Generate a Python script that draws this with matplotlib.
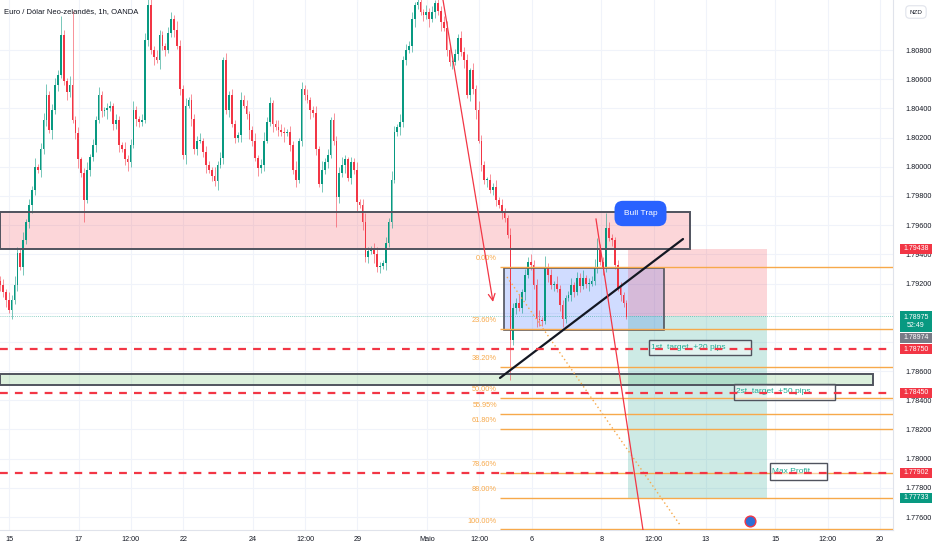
import numpy as np
import matplotlib
matplotlib.use('Agg')
import matplotlib.pyplot as plt
from matplotlib import font_manager
from matplotlib.patches import Rectangle
import matplotlib.transforms as mtrans

# fonts
names = {f.name for f in font_manager.fontManager.ttflist}
narrow = 'Liberation Sans Narrow' if 'Liberation Sans Narrow' in names else 'Liberation Sans'
plt.rcParams['font.family'] = ['Liberation Sans', 'DejaVu Sans']

# EUR/NZD 2h candles (closes)
closes = [
    1.7919, 1.7914, 1.7909, 1.7902, 1.7909, 1.7919, 1.7941, 1.7931, 1.7950, 1.7962,
    1.7974, 1.7984, 1.8000, 1.7998, 1.8012, 1.8032, 1.8049, 1.8025, 1.8039, 1.8056,
    1.8063, 1.8090, 1.8059, 1.8051, 1.8056, 1.8032, 1.8023, 1.8005, 1.7996, 1.7977,
    1.7998, 1.8007, 1.8015, 1.8032, 1.8049, 1.8038, 1.8039, 1.8040, 1.8042, 1.8029,
    1.8032, 1.8015, 1.8012, 1.8005, 1.8003, 1.8015, 1.8039, 1.8033, 1.8031, 1.8032,
    1.8087, 1.8111, 1.8080, 1.8075, 1.8073, 1.8090, 1.8083, 1.8080, 1.8092, 1.8101,
    1.8094, 1.8083, 1.8053, 1.8008, 1.8042, 1.8046, 1.8033, 1.8012, 1.8018, 1.8018,
    1.8010, 1.8001, 1.7998, 1.7994, 1.7990, 1.8001, 1.8006, 1.8073, 1.8039, 1.8049,
    1.8029, 1.8020, 1.8022, 1.8046, 1.8042, 1.8036, 1.8025, 1.8018, 1.8006, 1.7999,
    1.8001, 1.8018, 1.8031, 1.8044, 1.8029, 1.8027, 1.8025, 1.8024, 1.8023, 1.8024,
    1.8015, 1.7998, 1.7991, 1.8018, 1.8053, 1.8049, 1.8046, 1.8039, 1.8037, 1.8012,
    1.7988, 1.7998, 1.8003, 1.8008, 1.8032, 1.8018, 1.7979, 1.7996, 1.8001, 1.8005,
    1.7992, 1.8003, 1.7998, 1.7976, 1.7974, 1.7962, 1.7938, 1.7942, 1.7944, 1.7940,
    1.7931, 1.7932, 1.7934, 1.7948, 1.7962, 1.7991, 1.8024, 1.8027, 1.8031, 1.8073,
    1.8080, 1.8083, 1.8101, 1.8111, 1.8113, 1.8106, 1.8104, 1.8106, 1.8101, 1.8106,
    1.8112, 1.8107, 1.8099, 1.8095, 1.8080, 1.8072, 1.8072, 1.8077, 1.8088, 1.8079,
    1.8073, 1.8049, 1.8066, 1.8053, 1.8039, 1.8018, 1.8001, 1.7991, 1.7991, 1.7984,
    1.7986, 1.7977, 1.7974, 1.7969, 1.7965, 1.7953, 1.7881, 1.7903, 1.7907, 1.7903,
    1.7914, 1.7926, 1.7935, 1.7933, 1.7919, 1.7896, 1.7895, 1.7894, 1.7931, 1.7926,
    1.7919, 1.7920, 1.7916, 1.7905, 1.7896, 1.7910, 1.7912, 1.7919, 1.7914, 1.7924,
    1.7918, 1.7924, 1.7920, 1.7920, 1.7922, 1.7931, 1.7943, 1.7935, 1.7931, 1.7958,
    1.7951, 1.7950, 1.7933, 1.7917, 1.7912, 1.7907, 1.78974,
]
first_open = 1.7922
# wick lengths in pips above / below the body
wick_up = [
    3, 4, 2, 5, 3, 6, 4, 3, 5, 2, 4, 3, 6, 2, 4, 5, 8, 3, 4, 5,
    3, 13, 4, 2, 6, 51, 3, 4, 2, 3, 5, 2, 4, 3, 6, 3, 2, 4, 3, 2,
    4, 3, 2, 5, 3, 4, 6, 3, 2, 4, 5, 4, 6, 3, 5, 4, 3, 2, 4, 5,
    3, 6, 4, 3, 5, 2, 4, 3, 3, 5, 2, 4, 3, 2, 6, 3, 4, 2, 5, 3,
    4, 3, 2, 5, 3, 4, 2, 3, 5, 2, 4, 6, 3, 4, 2, 3, 5, 4, 3, 2,
    4, 3, 6, 2, 5, 3, 4, 2, 3, 5, 2, 6, 3, 4, 2, 5, 3, 4, 6, 3,
    2, 4, 3, 5, 2, 4, 6, 3, 2, 4, 5, 3, 2, 4, 3, 6, 4, 2, 5, 3,
    4, 3, 5, 2, 4, 3, 2, 5, 3, 4, 2, 6, 3, 4, 5, 3, 2, 4, 3, 5,
    3, 4, 2, 5, 3, 6, 4, 3, 2, 4, 3, 5, 2, 4, 3, 2, 5, 4, 3, 6,
    2, 4, 3, 5, 3, 4, 6, 2, 8, 3, 4, 2, 5, 3, 4, 2, 3, 5, 2, 4,
    3, 5, 2, 4, 3, 6, 8, 4, 3, 10, 4, 3, 2, 3, 4, 2, 2,
]
wick_dn = [
    4, 3, 5, 2, 6, 3, 4, 2, 5, 3, 4, 6, 3, 2, 5, 3, 4, 2, 6, 3,
    4, 2, 3, 5, 3, 2, 4, 6, 3, 15, 2, 4, 3, 5, 2, 4, 3, 6, 2, 4,
    3, 5, 2, 4, 6, 3, 2, 5, 4, 3, 2, 4, 3, 5, 2, 6, 3, 4, 2, 3,
    5, 2, 4, 3, 6, 2, 5, 3, 4, 2, 3, 5, 2, 4, 3, 6, 2, 4, 3, 5,
    2, 4, 3, 5, 2, 3, 6, 4, 2, 5, 3, 4, 2, 3, 5, 2, 4, 3, 6, 2,
    4, 3, 5, 2, 4, 3, 2, 6, 3, 4, 2, 5, 3, 4, 2, 3, 20, 4, 3, 5,
    2, 4, 3, 6, 2, 5, 3, 4, 2, 6, 3, 4, 2, 5, 3, 4, 2, 3, 5, 4,
    3, 2, 4, 5, 3, 2, 4, 3, 5, 2, 4, 3, 6, 2, 4, 3, 5, 2, 4, 3,
    5, 2, 4, 3, 6, 2, 4, 3, 5, 2, 3, 4, 2, 5, 3, 2, 27, 3, 4, 2,
    3, 5, 2, 4, 3, 6, 4, 3, 2, 5, 3, 4, 2, 4, 6, 3, 2, 4, 3, 2,
    4, 2, 3, 5, 2, 3, 4, 2, 5, 3, 2, 4, 3, 2, 4, 3, 2,
]

# x axis: trading days after 15 Apr and their labels
tick_days = [0, 2, 3.5, 5, 7, 8.5, 10, 12, 13.5, 15, 17, 18.5, 20, 22, 23.5, 25]
tick_labels = ['15', '17', '12:00', '22', '24', '12:00', '29', 'Maio', '12:00',
               '6', '8', '12:00', '13', '15', '12:00', '20']

# levels
zone_red = (1.79438, 1.79690)
zone_green = (1.78505, 1.78580)
range_box = (1.78882, 1.79307)
stop, entry, target = 1.79438, 1.78975, 1.77733
fib_0, fib_100 = 1.79315, 1.77517
fib_levels = [0, 0.236, 0.382, 0.5, 0.5595, 0.618, 0.786, 0.88, 1.0]
fib_labels = ['0.00%', '23.60%', '38.20%', '50.00%', '55.95%', '61.80%',
              '78.60%', '88.00%', '100.00%']
dashed_levels = [1.78750, 1.78450, 1.77902]

GREEN = '#089981'
RED = '#f23645'
ORANGE = '#f7a94b'
DARK = '#131722'
EDGE = '#50535e'

closes = np.array(closes)
opens = np.concatenate([[first_open], closes[:-1]])
highs = np.maximum(opens, closes) + np.array(wick_up) / 10000
lows = np.minimum(opens, closes) - np.array(wick_dn) / 10000
idx = np.arange(len(closes))
up = closes >= opens
cols = np.where(up, GREEN, RED)

W, H = 932, 550
fig = plt.figure(figsize=(W / 100, H / 100), dpi=100)
ax = fig.add_axes([0, 20 / H, 893 / W, 530 / H])
ymin, ymax = 1.77511, 1.81143
xmax = 893 / 2.9
ax.set_xlim(0, xmax)
ax.set_ylim(ymin, ymax)
ppx = (ymax - ymin) / 530  # price per pixel
xpx = xmax / 893           # index per pixel

# grid
ax.set_axisbelow(True)
ax.grid(color='#f0f3fa', lw=0.8)

# zones and boxes under the candles
ax.add_patch(Rectangle((0, zone_red[0]), 690 * xpx, zone_red[1] - zone_red[0],
                       fc=RED, alpha=0.2, ec='none', zorder=1))
ax.add_patch(Rectangle((0, zone_red[0]), 690 * xpx, zone_red[1] - zone_red[0],
                       fc='none', ec=EDGE, lw=1.4, zorder=4))
ax.add_patch(Rectangle((0, zone_green[0]), 873 * xpx, zone_green[1] - zone_green[0],
                       fc='#4caf50', alpha=0.2, ec='none', zorder=1))
ax.add_patch(Rectangle((0, zone_green[0]), 873 * xpx, zone_green[1] - zone_green[0],
                       fc='none', ec=EDGE, lw=1.4, zorder=4))
bx0, bx1 = 504 * xpx, 664 * xpx
ax.add_patch(Rectangle((bx0, range_box[0]), bx1 - bx0, range_box[1] - range_box[0],
                       fc='#2962ff', alpha=0.22, ec='none', zorder=1))
ax.add_patch(Rectangle((bx0, range_box[0]), bx1 - bx0, range_box[1] - range_box[0],
                       fc='none', ec=EDGE, lw=1.2, zorder=4))

# short position tool
px0, px1 = 628 * xpx, 767 * xpx
ax.add_patch(Rectangle((px0, entry), px1 - px0, stop - entry, fc=RED, alpha=0.2,
                       ec='none', zorder=1))
ax.add_patch(Rectangle((px0, target), px1 - px0, entry - target, fc=GREEN, alpha=0.2,
                       ec='none', zorder=1))

# current price line
ax.axhline(1.78975, color=GREEN, lw=0.6, ls=(0, (1, 1.5)), alpha=0.6, zorder=1)

# candles
ax.vlines(idx, lows, highs, colors=cols, lw=0.7, alpha=0.55, zorder=2)
body = np.maximum(np.abs(closes - opens), 0.00003)
ax.bar(idx, body, width=0.62, bottom=np.minimum(opens, closes), color=cols,
       lw=0, zorder=3)

# fibonacci retracement
fx0 = 500 * xpx
for lev, lab in zip(fib_levels, fib_labels):
    p = fib_0 - lev * (fib_0 - fib_100)
    ax.plot([fx0, xmax], [p, p], color=ORANGE, lw=1, zorder=4, solid_capstyle='butt')
    ax.text(fx0 - 3 * xpx, p + 8 * ppx, lab, color=ORANGE, fontsize=5.3,
            family=narrow, ha='right', va='center', zorder=4)
ax.plot([507 * xpx, 680 * xpx], [1.79245, 1.77546], color=ORANGE, lw=1,
        ls=(0, (1, 2)), zorder=4)

# targets
for p in dashed_levels:
    ax.axhline(p, color=RED, lw=1.6, ls=(0, (3.5, 3.2)), zorder=7)

# trend line and drawn arrows
ax.plot([500 * xpx, 683 * xpx], [1.78553, 1.79505], color=DARK, lw=1.6, zorder=6,
        solid_capstyle='round')
ax.annotate('', xy=(493 * xpx, 1.79074), xytext=(443 * xpx, ymax),
            arrowprops=dict(arrowstyle='->', color=RED, lw=0.9, mutation_scale=12,
                            shrinkA=0, shrinkB=0), zorder=6)
ax.plot([596 * xpx, 643 * xpx], [1.79642, 1.77511], color=RED, lw=0.9, zorder=6)

# text notes
notes = [(649, 751, 1.78710, 1.78813, '1st  target  +20 pips'),
         (734, 835, 1.78402, 1.78512, '2st  target  +50 pips'),
         (770, 827, 1.77854, 1.77970, 'Max Profit')]
for x0, x1, p0, p1, txt in notes:
    ax.add_patch(Rectangle((x0 * xpx, p0), (x1 - x0) * xpx, p1 - p0, fc='white',
                           alpha=0.45, ec='none', zorder=5))
    ax.add_patch(Rectangle((x0 * xpx, p0), (x1 - x0) * xpx, p1 - p0, fc='none',
                           ec=EDGE, lw=1, zorder=5))
    ax.text((x0 + 2) * xpx, (p0 + p1) / 2, txt, color='#22ab94', fontsize=6,
            ha='left', va='center', zorder=5)

ax.text(640.5 * xpx, 1.79680, 'Bull Trap', color='white', fontsize=6,
        ha='center', va='center', zorder=8,
        bbox=dict(boxstyle='round,pad=1.1,rounding_size=1.0', fc='#2962ff', ec='none'))

ax.scatter([750 * xpx], [1.77573], s=60, c='#2f6fd6', edgecolors=RED, lw=1, zorder=8)

# axes styling
for s in ['top', 'left']:
    ax.spines[s].set_visible(False)
ax.spines['right'].set_color('#e0e3eb')
ax.spines['bottom'].set_color('#e0e3eb')
ax.yaxis.tick_right()
yt = np.round(np.arange(1.776, 1.8081, 0.002), 3)
ax.set_yticks(yt)
# 1.79000 and 1.78800 sit under the price tags in the reference
ax.set_yticklabels(['' if v in (1.790, 1.788) else f'{v:.5f}' for v in yt])
ax.tick_params(axis='y', length=0, pad=9, labelsize=5.2, labelcolor=DARK)
for t in ax.get_yticklabels():
    t.set_family(narrow)
tick_idx = [(9 + 34.84 * d) * xpx for d in tick_days]
ax.set_xticks(tick_idx)
ax.set_xticklabels(tick_labels)
ax.tick_params(axis='x', length=0, pad=4, labelsize=5.2, labelcolor=DARK)
for t in ax.get_xticklabels():
    t.set_family(narrow)

# price tags on the right axis
blend = mtrans.blended_transform_factory(ax.transAxes, ax.transData)
tags = [(1.79438, ['1.79438'], RED, 10),
        (1.78940, ['1.78975', '52:49'], GREEN, 21),
        (1.78827, ['1.78974'], '#787b86', 10),
        (1.78750, ['1.78750'], RED, 10),
        (1.78450, ['1.78450'], RED, 10),
        (1.77902, ['1.77902'], RED, 10),
        (1.77733, ['1.77733'], GREEN, 10)]
tx0 = 1 + 7 / 893
tw = 32 / 893
for p, lines, c, h in tags:
    ax.add_patch(Rectangle((tx0, p - h / 2 * ppx), tw, h * ppx, transform=blend,
                           fc=c, ec='none', clip_on=False, zorder=9))
    ax.text(tx0 + tw / 2, p, '\n'.join(lines), transform=blend, color='white',
            fontsize=5, family=narrow, ha='center', va='center', clip_on=False,
            zorder=10, linespacing=1.15)

fig.text(4 / W, 1 - 12 / H, 'Euro / Dólar Neo-zelandês, 1h, OANDA', fontsize=5.5,
         color=DARK, va='center', ha='left', family=narrow)
fig.text(916 / W, 1 - 12 / H, 'NZD', fontsize=4.5, color=DARK, ha='center', va='center',
         family=narrow, bbox=dict(boxstyle='round,pad=0.6', fc='white', ec='#e0e3eb', lw=0.8))

fig.savefig('out.png', dpi=100)
